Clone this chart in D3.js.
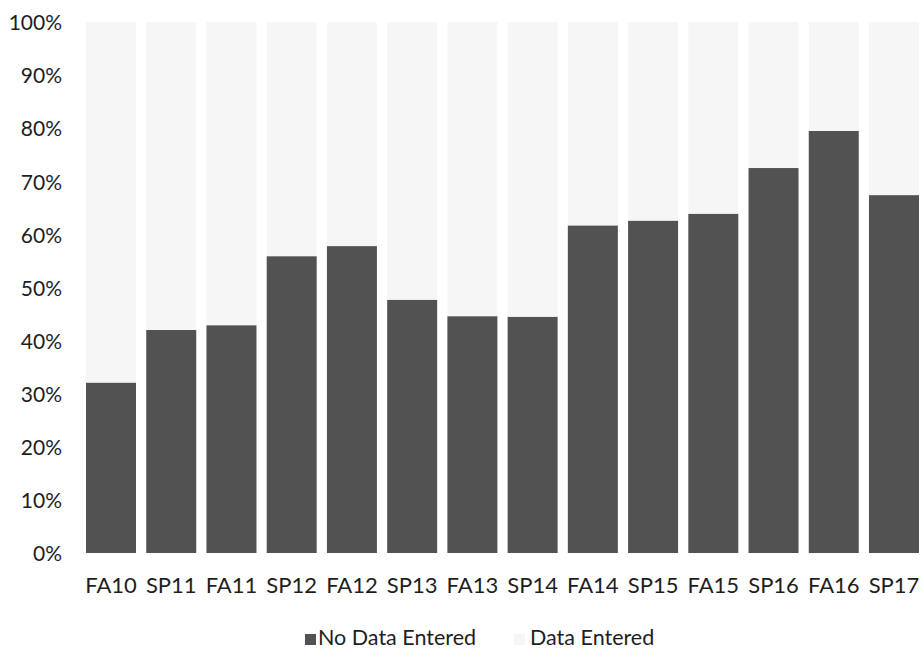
<!DOCTYPE html>
<html>
<head>
<meta charset="utf-8">
<script src="https://cdn.jsdelivr.net/npm/d3@7"></script>
<style>
  html, body { margin: 0; padding: 0; background: #ffffff; }
  svg { display: block; }
  text { font-family: Lato, "Open Sans", sans-serif; fill: #1e1e1e; }
</style>
</head>
<body>
<svg id="chart" width="921" height="651"></svg>
<script>
const categories = ["FA10","SP11","FA11","SP12","FA12","SP13","FA13","SP14","FA14","SP15","FA15","SP16","FA16","SP17"];
const noDataEntered = [32.1, 42.0, 42.9, 55.9, 57.8, 47.7, 44.6, 44.5, 61.7, 62.6, 63.9, 72.5, 79.5, 67.4];
const dataEntered = noDataEntered.map(v => 100 - v);
const yTicks = [0, 10, 20, 30, 40, 50, 60, 70, 80, 90, 100];
const seriesNames = ["No Data Entered", "Data Entered"];
const seriesColors = ["#525252", "#f6f6f6"];

const svg = d3.select("#chart");

const x = d3.scaleBand()
  .domain(categories)
  .range([80.9, 924.1])
  .paddingInner(0.17)
  .paddingOuter(0.085);

const y = d3.scaleLinear().domain([0, 100]).range([553, 22]);

const rows = categories.map((c, i) => ({ cat: c, nd: noDataEntered[i], de: dataEntered[i] }));
const stack = d3.stack().keys(["nd", "de"]);
const stacked = stack(rows);

const g = svg.append("g");
stacked.forEach((layer, li) => {
  g.append("g")
    .attr("fill", seriesColors[li])
    .selectAll("rect")
    .data(layer)
    .join("rect")
    .attr("x", d => x(d.data.cat))
    .attr("width", x.bandwidth())
    .attr("y", d => y(d[1]))
    .attr("height", d => y(d[0]) - y(d[1]));
});

// Y axis (labels only)
const yAxis = d3.axisLeft(y).tickValues(yTicks).tickFormat(d => d + "%").tickSize(0).tickPadding(0);
const yg = svg.append("g").attr("transform", "translate(62,1)").call(yAxis);
yg.select(".domain").remove();
yg.selectAll("text").attr("font-size", 21).attr("font-family", "Lato, sans-serif").attr("fill", "#1e1e1e");

// X axis (labels only)
const xAxis = d3.axisBottom(x).tickSize(0).tickPadding(0);
const xg = svg.append("g").attr("transform", "translate(0,577)").call(xAxis);
xg.select(".domain").remove();
xg.selectAll("text").attr("font-size", 22).attr("font-family", "Lato, sans-serif").attr("fill", "#1e1e1e").attr("dy", "0.71em");

// Legend
const legend = svg.append("g");
const legendItems = [
  { name: seriesNames[0], color: seriesColors[0], sx: 305, tx: 318 },
  { name: seriesNames[1], color: seriesColors[1], sx: 514, tx: 530 }
];
legendItems.forEach(it => {
  legend.append("rect").attr("x", it.sx).attr("y", 634).attr("width", 11).attr("height", 11).attr("fill", it.color);
  legend.append("text").attr("x", it.tx).attr("y", 645).attr("font-size", 21.5).text(it.name);
});
</script>
</body>
</html>
